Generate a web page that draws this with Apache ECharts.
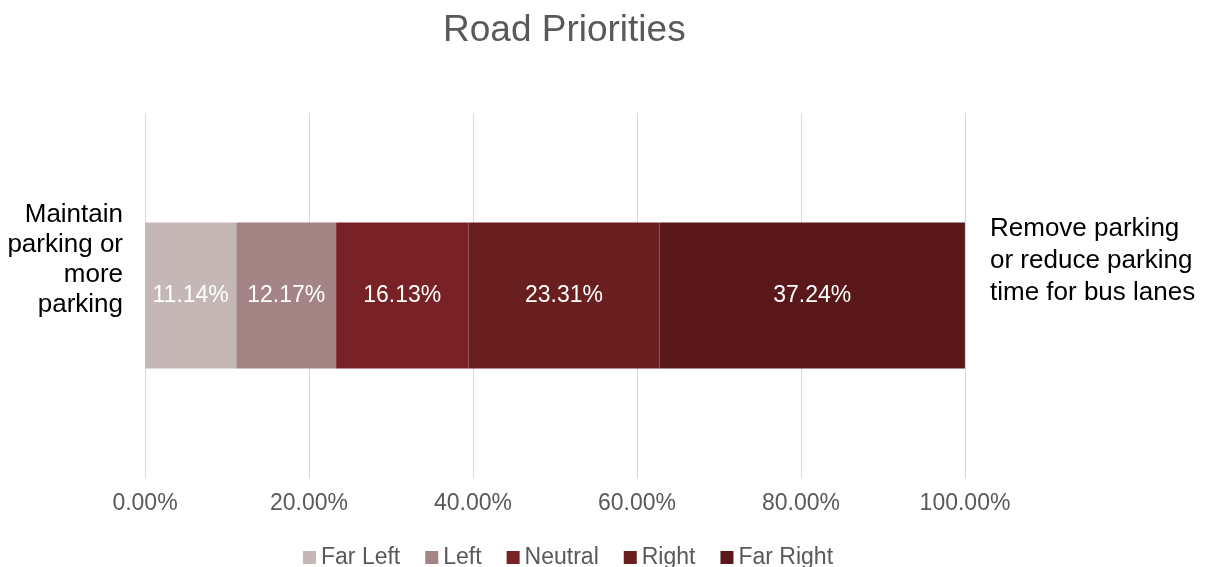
<!DOCTYPE html>
<html>
<head>
<meta charset="utf-8">
<title>Road Priorities</title>
<script src="https://cdn.jsdelivr.net/npm/echarts@6/dist/echarts.min.js"></script>
<style>
  html, body { margin: 0; padding: 0; background: #fff; }
  #roadChart { width: 1209px; height: 567px; }
</style>
</head>
<body>
<div id="roadChart"></div>
<script>
// data
var categories = ['Maintain\nparking or\nmore\nparking']
var rightLabels = ['Remove parking\nor reduce parking\ntime for bus lanes']
var seriesNames = ['Far Left', 'Left', 'Neutral', 'Right', 'Far Right']
var seriesValues = [11.14, 12.17, 16.13, 23.31, 37.24]
var colors = ['#C4B7B6', '#A48485', '#782226', '#6A1F1F', '#5A181B']

var myChart = echarts.init(document.getElementById('roadChart'))

var series = []
for (var i = 0; i < seriesNames.length; i++) {
  series.push({
    name: seriesNames[i],
    type: 'bar',
    stack: 'total',
    barWidth: 146,
    data: [seriesValues[i]],
    itemStyle: { color: colors[i] },
    label: {
      show: true,
      position: 'inside',
      color: '#ffffff',
      fontSize: 23,
      fontFamily: 'Liberation Sans',
      formatter: function (p) {
        return p.value.toFixed(2) + '%'
      }
    }
  })
}

// side labels sit a bit above the bar centre, push them up with an empty spacer line
function lift(v) {
  return v + '\n{sp|}'
}

var option = {
  animation: false,
  color: colors,
  title: {
    text: 'Road Priorities',
    left: 438,
    top: 7,
    textStyle: {
      color: '#595959',
      fontSize: 37,
      fontWeight: 'normal',
      fontFamily: 'Liberation Sans'
    }
  },
  legend: {
    top: 541,
    left: 298,
    itemWidth: 13,
    itemHeight: 13,
    itemGap: 25,
    icon: 'rect',
    textStyle: {
      color: '#595959',
      fontSize: 23,
      fontFamily: 'Liberation Sans'
    },
    data: seriesNames
  },
  grid: {
    left: 145,
    right: 244,
    top: 113,
    bottom: 89
  },
  xAxis: {
    type: 'value',
    min: 0,
    max: 100,
    interval: 20,
    axisLine: { show: false },
    axisTick: { show: false },
    splitLine: { lineStyle: { color: '#D9D9D9', width: 1 } },
    axisLabel: {
      margin: 14,
      color: '#595959',
      fontSize: 23,
      fontFamily: 'Liberation Sans',
      formatter: function (v) {
        return v.toFixed(2) + '%'
      }
    }
  },
  yAxis: [
    {
      type: 'category',
      data: categories,
      axisLine: { show: false },
      axisTick: { show: false },
      axisLabel: {
        margin: 22,
        color: '#000000',
        fontSize: 26,
        lineHeight: 30,
        align: 'right',
        fontFamily: 'Liberation Sans',
        formatter: lift,
        rich: { sp: { height: 72, lineHeight: 72 } }
      }
    },
    {
      type: 'category',
      position: 'right',
      data: rightLabels,
      axisLine: { show: false },
      axisTick: { show: false },
      axisLabel: {
        margin: 25,
        color: '#000000',
        fontSize: 26,
        lineHeight: 32,
        align: 'left',
        fontFamily: 'Liberation Sans',
        formatter: lift,
        rich: { sp: { height: 70, lineHeight: 70 } }
      }
    }
  ],
  series: series
}

myChart.setOption(option)
</script>
</body>
</html>
